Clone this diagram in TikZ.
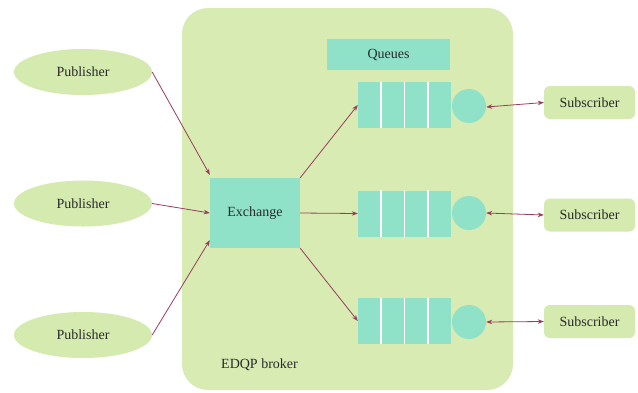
\documentclass[tikz,border=0pt]{standalone}
\usepackage{fontspec}
\setmainfont{Liberation Serif}
\usetikzlibrary{arrows.meta,shapes.geometric}
\definecolor{brokergreen}{HTML}{D7EBB2}
\definecolor{pubgreen}{HTML}{D4EAAE}
\definecolor{teal}{HTML}{8FE2C8}
\definecolor{arrowc}{HTML}{9A3D5C}
\definecolor{txt}{HTML}{2A2A2A}
\tikzset{
  pub/.style={ellipse, fill=pubgreen, minimum width=138pt, minimum height=46pt, inner sep=0pt, text=txt, font=\fontsize{14}{16}\selectfont},
  sub/.style={rectangle, rounded corners=6pt, fill=pubgreen, minimum width=91pt, minimum height=33pt, inner sep=0pt, text=txt, font=\fontsize{14}{16}\selectfont},
  tealbox/.style={rectangle, fill=teal, inner sep=0pt, text=txt, font=\fontsize{14}{16}\selectfont},
  qbox/.style={rectangle, fill=teal, minimum width=93pt, minimum height=46pt, inner sep=0pt},
  qcirc/.style={circle, fill=teal, minimum size=34pt, inner sep=0pt},
  sep/.style={white, line width=1.5pt},
  conn/.style={arrowc, line width=0.8pt, -{Stealth[length=6pt,width=4.5pt]}},
  dconn/.style={arrowc, line width=0.8pt, {Stealth[length=6pt,width=4.5pt]}-{Stealth[length=6pt,width=4.5pt]}},
  lbl/.style={text=txt, font=\fontsize{14}{16}\selectfont, inner sep=0pt}
}
\begin{document}
\begin{tikzpicture}[x=1pt,y=-1pt]
\useasboundingbox (0,0) rectangle (638,392);
\fill[white] (0,0) rectangle (638,392);
% broker
\fill[brokergreen, rounded corners=26pt] (182,8) rectangle (513,390);
\node[lbl, anchor=west] (brokerlbl) at (221,365) {EDQP broker};
% queues label
\node[tealbox, minimum width=123pt, minimum height=31pt] (qlbl) at (388.5,54.5) {Queues};
% exchange
\node[tealbox, minimum width=90pt, minimum height=70pt] (ex) at (255,213) {Exchange};
% queues
\foreach \n/\y in {1/105, 2/213.5, 3/321} {
  \node[qbox] (q\n) at (404.5,\y) {};
  \draw[sep] ([xshift=23.25pt]q\n.north west) -- ([xshift=23.25pt]q\n.south west);
  \draw[sep] (q\n.north) -- (q\n.south);
  \draw[sep] ([xshift=-23.25pt]q\n.north east) -- ([xshift=-23.25pt]q\n.south east);
}
\node[qcirc] (c1) at (469,106) {};
\node[qcirc] (c2) at (469,213) {};
\node[qcirc] (c3) at (469,322) {};
% publishers
\node[pub] (p1) at (83,72) {Publisher};
\node[pub] (p2) at (83,203.5) {Publisher};
\node[pub] (p3) at (83,335) {Publisher};
% subscribers
\node[sub] (s1) at (589.5,102.5) {Subscriber};
\node[sub] (s2) at (589.5,215) {Subscriber};
\node[sub] (s3) at (589.5,321.5) {Subscriber};
% connectors
\draw[conn] (p1.east) -- ([yshift=3pt]ex.north west);
\draw[conn] (p2.east) -- (ex.west);
\draw[conn] (p3.east) -- ([yshift=8pt]ex.south west);
\draw[conn] (ex.north east) -- (q1.west);
\draw[conn] (ex.east) -- (q2.west);
\draw[conn] (ex.south east) -- (q3.west);
\draw[dconn] ([yshift=-1pt]c1.east) -- (s1.west);
\draw[dconn] (c2.east) -- (s2.west);
\draw[dconn] (c3.east) -- (s3.west);
\end{tikzpicture}
\end{document}
